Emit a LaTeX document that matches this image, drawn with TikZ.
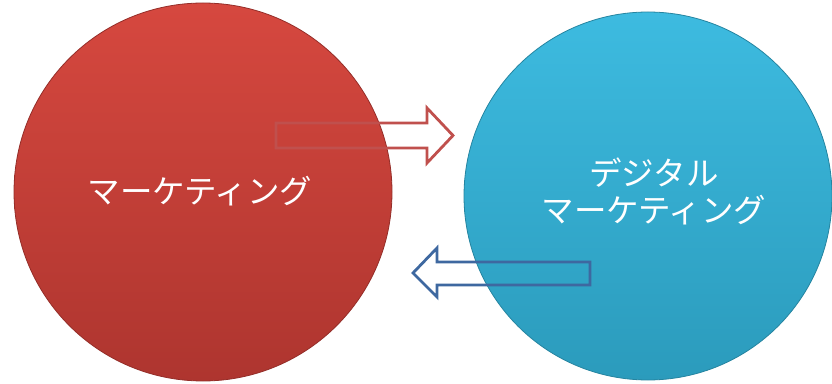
\documentclass[tikz,border=0pt]{standalone}
\usepackage{fontspec}
\newfontfamily\jpfont{Noto Sans CJK JP}
\definecolor{redtop}{HTML}{D6483F}
\definecolor{redbot}{HTML}{AE352F}
\definecolor{bluetop}{HTML}{3DBBE0}
\definecolor{bluebot}{HTML}{2B9BBC}
\definecolor{redline}{HTML}{C0504D}
\definecolor{blueline}{HTML}{3E68A0}
\tikzset{
  ball/.style={circle, inner sep=0pt},
  redball/.style={ball, top color=redtop, bottom color=redbot, draw=redbot!85!black, line width=0.8pt},
  blueball/.style={ball, top color=bluetop, bottom color=bluebot, draw=bluebot!85!black, line width=0.8pt},
  balltext/.style={text=white, align=center, inner sep=0pt, font=\jpfont\fontsize{32.5}{37}\selectfont},
  blockarrow/.style={line width=2.8pt, line join=miter}
}
\begin{document}
\begin{tikzpicture}[x=1pt,y=1pt]
\useasboundingbox (0,0) rectangle (832,383);
\node[redball, minimum size=378pt] (mk) at (203,191) {};
\node[blueball, minimum size=368pt] (dm) at (648,187) {};
\node[balltext] (mkt) at (200,192) {マーケティング};
\node[balltext] (dmt) at (654,191.5) {デジタル\\マーケティング};
\draw[blockarrow, draw=redline] (276,260) -- (427,260) -- (427,275) -- (453,247.5) -- (427,220) -- (427,235) -- (276,235) -- cycle;
\draw[blockarrow, draw=blueline] (590,121) -- (437,121) -- (437,135) -- (413,110) -- (437,86) -- (437,98) -- (590,98) -- cycle;
\end{tikzpicture}
\end{document}
